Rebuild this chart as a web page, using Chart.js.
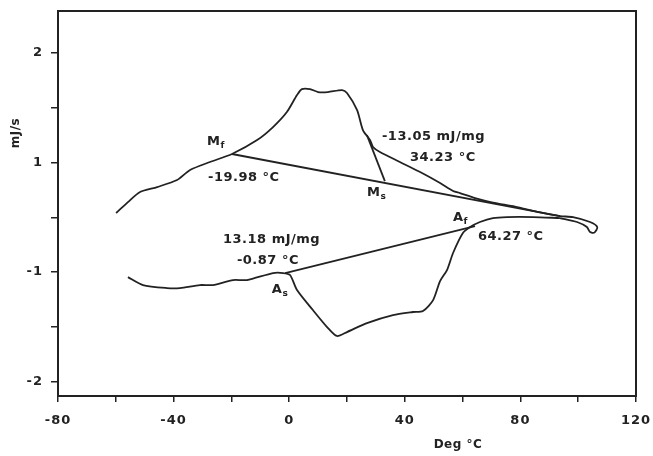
<!DOCTYPE html>
<html>
<head>
<meta charset="utf-8">
<script src="https://cdn.jsdelivr.net/npm/chart.js@4.4.1/dist/chart.umd.min.js"></script>
<style>
  html, body { margin: 0; padding: 0; background: #fff; }
  #wrap { width: 653px; height: 456px; }
</style>
</head>
<body>
<div id="wrap"><canvas id="dsc" width="653" height="456"></canvas></div>
<script>
// cooling trace (top), from the left end round the loop at the right
var coolTemp = [-59.9, -55.8, -51.6, -45.7, -38.8, -34.3, -27.4, -19.8, -11.1, -5.6, -0.8, 2.7, 4.4, 7.2, 10.0, 13.4, 18.3, 20.0, 23.5, 25.5, 28.0, 29.0, 31.4, 38.3, 45.3, 52.2, 56.7, 59.1, 64.3, 70.5, 78.1, 86.8, 93.7, 98.2, 104.1, 106.6, 105.6, 104.1, 103.0, 99.6, 93.7];
var coolFlow = [0.539, 0.639, 0.731, 0.776, 0.840, 0.932, 1.005, 1.078, 1.205, 1.324, 1.461, 1.616, 1.671, 1.671, 1.644, 1.644, 1.662, 1.635, 1.479, 1.297, 1.205, 1.142, 1.096, 1.005, 0.913, 0.813, 0.740, 0.721, 0.676, 0.635, 0.598, 0.545, 0.511, 0.502, 0.457, 0.411, 0.360, 0.365, 0.411, 0.457, 0.493];

// heating trace (bottom), back from the loop to the left end
var heatTemp = [93.7, 84.4, 75.4, 70.5, 66.0, 62.6, 60.1, 56.7, 54.6, 52.2, 49.8, 46.3, 42.8, 35.9, 26.9, 20.0, 16.5, 13.1, 8.2, 2.7, 0.3, -2.1, -5.6, -14.6, -19.4, -26.4, -30.9, -37.8, -42.3, -50.6, -55.8];
var heatFlow = [0.493, 0.502, 0.502, 0.493, 0.457, 0.411, 0.356, 0.174, 0.018, -0.083, -0.256, -0.356, -0.365, -0.393, -0.466, -0.548, -0.584, -0.502, -0.347, -0.164, -0.027, -0.009, -0.009, -0.073, -0.073, -0.119, -0.119, -0.146, -0.146, -0.119, -0.046];

// construction lines
var mfBaseTemp = [-19.8, 93.7];
var mfBaseFlow = [1.078, 0.511];
var msTanTemp = [26.9, 33.1];
var msTanFlow = [1.251, 0.831];
var asBaseTemp = [-1.4, 64.3];
var asBaseFlow = [-0.009, 0.420];

// axes
var xTickValues = [-80, -60, -40, -20, 0, 20, 40, 60, 80, 100, 120];
var yTickValues = [2, 1.5, 1, 0.5, 0, -0.5, -1];
var yTickLabels = ['2', '', '1', '', '-1', '', '-2'];

// notes written on the plot
var noteText = ['M', '-19.98 \u00B0C', '-13.05 mJ/mg', '34.23 \u00B0C', 'M', 'A', '64.27 \u00B0C', '13.18 mJ/mg', '-0.87 \u00B0C', 'A'];
var noteSub  = ['f', '', '', '', 's', 'f', '', '', '', 's'];
var noteTemp = [-28.4, -28.1, 32.1, 41.8, 26.9, 56.7, 65.3, -22.9, -18.1, -6.0];
var noteFlow = [1.187, 0.858, 1.233, 1.041, 0.721, 0.493, 0.320, 0.292, 0.101, -0.164];

var ink = '#222';

function pairs(xs, ys) {
  return xs.map(function(x, i) { return { x: x, y: ys[i] }; });
}

function trace(xs, ys, tension) {
  return {
    data: pairs(xs, ys),
    showLine: true,
    borderColor: ink,
    borderWidth: 1.8,
    pointRadius: 0,
    tension: tension,
    fill: false
  };
}

var framePlugin = {
  id: 'frame',
  beforeDraw: function(chart) {
    chart.ctx.letterSpacing = '1px';
  },
  afterDatasetsDraw: function(chart) {
    var ctx = chart.ctx, a = chart.chartArea;
    ctx.save();
    ctx.strokeStyle = ink;
    ctx.lineWidth = 2;
    ctx.strokeRect(a.left, a.top, a.right - a.left, a.bottom - a.top);

    ctx.fillStyle = ink;
    ctx.textBaseline = 'middle';
    ctx.textAlign = 'left';
    ctx.letterSpacing = '0.5px';
    var xs = chart.scales.x, ys = chart.scales.y;
    for (var i = 0; i < noteText.length; i++) {
      var px = xs.getPixelForValue(noteTemp[i]);
      var py = ys.getPixelForValue(noteFlow[i]);
      ctx.font = 'bold 13px "DejaVu Sans"';
      ctx.fillText(noteText[i], px, py);
      if (noteSub[i]) {
        var w = ctx.measureText(noteText[i]).width;
        ctx.font = 'bold 9px "DejaVu Sans"';
        ctx.fillText(noteSub[i], px + w, py + 4);
      }
    }

    // axis titles
    ctx.font = 'bold 12px "DejaVu Sans"';
    ctx.textAlign = 'center';
    ctx.fillText('Deg \u00B0C', 458, 445);
    ctx.translate(16, 133);
    ctx.rotate(-Math.PI / 2);
    ctx.fillText('mJ/s', 0, 0);
    ctx.restore();
  }
};

var chart = new Chart(document.getElementById('dsc').getContext('2d'), {
  type: 'scatter',
  data: {
    datasets: [
      trace(coolTemp, coolFlow, 0.25),
      trace(heatTemp, heatFlow, 0.25),
      trace(mfBaseTemp, mfBaseFlow, 0),
      trace(msTanTemp, msTanFlow, 0),
      trace(asBaseTemp, asBaseFlow, 0)
    ]
  },
  options: {
    responsive: false,
    animation: false,
    layout: { padding: { left: 0, top: 11, right: 17, bottom: 0 } },
    plugins: {
      legend: { display: false },
      tooltip: { enabled: false }
    },
    scales: {
      x: {
        type: 'linear',
        min: -80,
        max: 120,
        afterBuildTicks: function(axis) {
          axis.ticks = xTickValues.map(function(v) { return { value: v }; });
        },
        afterFit: function(axis) {
          axis.height = 60;
          axis.paddingLeft = 0;
          axis.paddingRight = 0;
        },
        ticks: {
          autoSkip: false,
          maxRotation: 0,
          padding: 11,
          color: ink,
          font: { family: 'DejaVu Sans', size: 13, weight: 'bold' },
          callback: function(v) { return v % 40 === 0 ? String(v) : ''; }
        },
        grid: { drawOnChartArea: false, drawTicks: true, tickLength: 6, color: ink, lineWidth: 1.5 },
        border: { display: true, color: ink, width: 2 }
      },
      y: {
        type: 'linear',
        min: -1.132,
        max: 2.384,
        afterBuildTicks: function(axis) {
          axis.ticks = yTickValues.map(function(v) { return { value: v }; });
        },
        afterFit: function(axis) {
          axis.width = 58;
          axis.paddingTop = 0;
          axis.paddingBottom = 0;
        },
        ticks: {
          autoSkip: false,
          padding: 8,
          color: ink,
          font: { family: 'DejaVu Sans', size: 13, weight: 'bold' },
          callback: function(v, i) { return yTickLabels[i]; }
        },
        grid: { drawOnChartArea: false, drawTicks: true, tickLength: 7, color: ink, lineWidth: 1.5 },
        border: { display: true, color: ink, width: 2 }
      }
    }
  },
  plugins: [framePlugin]
});
</script>
</body>
</html>
